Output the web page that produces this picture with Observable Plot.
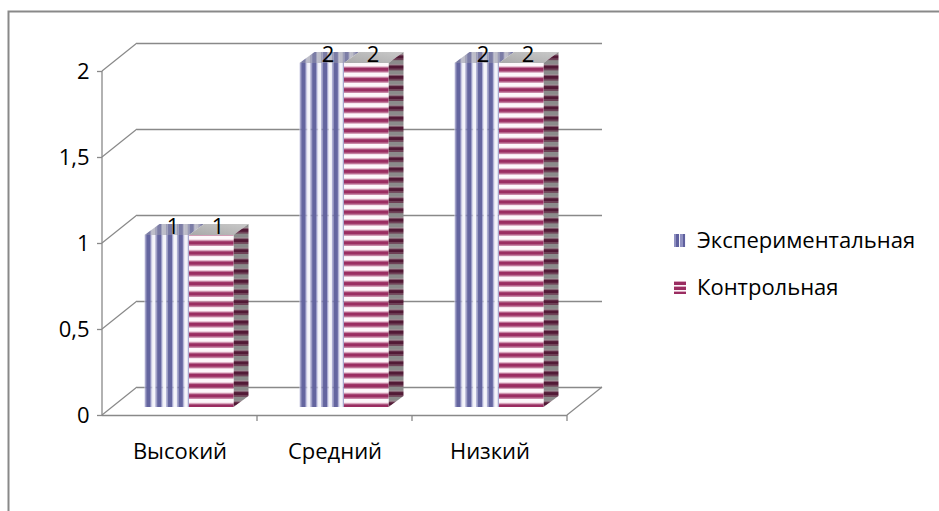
<!DOCTYPE html>
<html>
<head>
<meta charset="utf-8">
<script src="https://cdn.jsdelivr.net/npm/d3@7"></script>
<script src="https://cdn.jsdelivr.net/npm/@observablehq/plot@0.6"></script>
<style>
  body { margin: 0; background: #fff; }
  #chart { position: relative; width: 939px; height: 511px; overflow: hidden; font-family: "Open Sans", sans-serif; }
  #chart svg { position: absolute; left: 0; top: 0; }
  .legend-item { position: absolute; left: 674px; font-size: 22px; line-height: 24px; color: #000; white-space: nowrap; }
  .legend-item .sw { position: absolute; left: 0; width: 12px; height: 13px; }
  .legend-item .lbl { position: absolute; left: 23px; top: 0; }
  .sw.exp { background: repeating-linear-gradient(90deg, #9091c2 0 2.5px, #5f609e 2.5px 5px, #f4f4fa 5px 6.5px); }
  .sw.ctl { background: repeating-linear-gradient(180deg, #dba8c0 0 1.2px, #9a2d61 1.2px 3.6px, #fbf3f7 3.6px 5px); }
</style>
</head>
<body>
<div id="chart"></div>
<script>
// Level categories and the two groups being compared
const categories = ["Высокий", "Средний", "Низкий"];
const seriesNames = ["Экспериментальная", "Контрольная"];
const experimental = [1, 2, 2];
const control = [1, 2, 2];

// Value axis ticks and their labels (decimal comma)
const yTicks = [0, 0.5, 1, 1.5, 2];
const yTickLabels = ["0", "0,5", "1", "1,5", "2"];

const expRows = categories.map((c, i) => ({category: c, series: seriesNames[0], value: experimental[i]}));
const ctlRows = categories.map((c, i) => ({category: c, series: seriesNames[1], value: control[i]}));

// Layout and 3-D look
const W = 939, H = 511;
const M = {left: 102, right: 372, top: 71, bottom: 96};
const wall = {dx: 35, dy: -28};                 // offset of the back wall
const bar = {shift: 9.5, lift: -8, width: 44.5, depthX: 15, depthY: -11};
const half = (W - M.left - M.right) / categories.length / 2;
const gridColor = "#898989";
const gridWidth = 1.3;
const fontSize = 22;
const stripeH = 10.2;                            // period of horizontal stripes
const stripeV = 10.8;                            // period of vertical stripes

function bandwidth(x, dims) {
  return typeof x.bandwidth === "function" ? x.bandwidth() : (dims.width - dims.marginLeft - dims.marginRight) / categories.length;
}

// Pattern definitions for the striped fills
function patterns(index, {y}) {
  const base = y(0) + bar.lift;
  const g = d3.create("svg:g");
  const defs = g.append("defs");

  // vertical stripes, front of the experimental bars
  const pe = defs.append("pattern").attr("id", "expFront")
    .attr("patternUnits", "objectBoundingBox").attr("x", 0).attr("y", 0)
    .attr("width", stripeV / bar.width).attr("height", 1);
  [[0, 0.2, "#f4f4fa"], [0.2, 1.5, "#9a9bc9"], [1.5, 6.1, "#64659f"], [6.1, 7.4, "#9a9bc9"], [7.4, stripeV, "#f4f4fa"]]
    .forEach(([a, b, c]) => pe.append("rect").attr("x", a).attr("y", 0).attr("width", b - a).attr("height", H).attr("fill", c));

  // vertical stripes seen on the top of the experimental bars
  const topW = bar.width + bar.depthX;
  const pt = defs.append("pattern").attr("id", "expTop")
    .attr("patternUnits", "objectBoundingBox").attr("x", 0).attr("y", 0)
    .attr("width", stripeV / topW).attr("height", 1);
  [[0, 1.5, "#9a9ab4"], [1.5, 6.1, "#7c7da6"], [6.1, 7.4, "#9a9ab4"], [7.4, stripeV, "#bdbdc8"]]
    .forEach(([a, b, c]) => pt.append("rect").attr("x", a).attr("y", 0).attr("width", b - a).attr("height", 40).attr("fill", c));

  // horizontal stripes, front of the control bars
  const pc = defs.append("pattern").attr("id", "ctlFront")
    .attr("patternUnits", "userSpaceOnUse").attr("x", 0).attr("y", base % stripeH)
    .attr("width", 40).attr("height", stripeH);
  [[0, 3.9, "#fdf7fa"], [3.9, 5.0, "#e0b0c6"], [5.0, 9.1, "#9a2d61"], [9.1, stripeH, "#c98aa8"]]
    .forEach(([a, b, c]) => pc.append("rect").attr("x", 0).attr("y", a).attr("width", 40).attr("height", b - a).attr("fill", c));

  // horizontal stripes on the shaded side of the control bars
  const ps = defs.append("pattern").attr("id", "ctlSide")
    .attr("patternUnits", "userSpaceOnUse").attr("x", 0).attr("y", base % stripeH)
    .attr("width", 40).attr("height", stripeH);
  [[0, 4.3, "#8b8b8b"], [4.3, 5.0, "#72505f"], [5.0, 9.1, "#521a36"], [9.1, stripeH, "#6d4155"]]
    .forEach(([a, b, c]) => ps.append("rect").attr("x", 0).attr("y", a).attr("width", 40).attr("height", b - a).attr("fill", c));

  // top of the control bars
  const lg = defs.append("linearGradient").attr("id", "ctlTop").attr("x1", 0).attr("y1", 1).attr("x2", 1).attr("y2", 0);
  lg.append("stop").attr("offset", "0%").attr("stop-color", "#a9a9a9");
  lg.append("stop").attr("offset", "100%").attr("stop-color", "#c9c9c9");
  return g.node();
}

// Outer chart-area border (runs off the right and bottom edges)
function outerBorder() {
  return d3.create("svg:path")
    .attr("d", `M8.5,${H}V11.5H${W}`)
    .attr("fill", "none").attr("stroke", gridColor).attr("stroke-width", 2)
    .node();
}

// Side walls and floor edges of the 3-D box, plus category dividers
function box(index, {x, y}, values, dims) {
  const g = d3.create("svg:g").attr("fill", "none").attr("stroke", gridColor).attr("stroke-width", gridWidth);
  const x0 = dims.marginLeft, x1 = dims.width - dims.marginRight;
  for (const t of yTicks) {
    g.append("line").attr("x1", x0).attr("y1", y(t)).attr("x2", x0 + wall.dx).attr("y2", y(t) + wall.dy);
  }
  g.append("line").attr("x1", x1).attr("y1", y(0)).attr("x2", x1 + wall.dx).attr("y2", y(0) + wall.dy);
  g.append("line").attr("x1", x0).attr("y1", y(yTicks[yTicks.length - 1])).attr("x2", x0).attr("y2", y(0));
  const bw = bandwidth(x, dims);
  for (const c of categories) {
    const xb = x(c) + bw;
    g.append("line").attr("x1", xb).attr("y1", y(0)).attr("x2", xb).attr("y2", y(0) + 6);
  }
  return g.node();
}

// Top and right faces of the bars
function barFaces(index, {x, y}, values, dims) {
  const bw = bandwidth(x, dims);
  const g = d3.create("svg:g");
  const poly = (pts, fill) => g.append("polygon").attr("points", pts.map(p => p.join(",")).join(" ")).attr("fill", fill);
  categories.forEach((c, i) => {
    const cx = x(c) + bw / 2 + bar.shift;
    const yb = y(0) + bar.lift;
    const ye = y(experimental[i]) + bar.lift;
    const yc = y(control[i]) + bar.lift;
    const dX = bar.depthX, dY = bar.depthY;
    // experimental top
    poly([[cx - bar.width, ye], [cx - bar.width + dX, ye + dY], [cx + dX, ye + dY], [cx, ye]], "url(#expTop)");
    // control top
    poly([[cx, yc], [cx + dX, yc + dY], [cx + bar.width + dX, yc + dY], [cx + bar.width, yc]], "url(#ctlTop)");
    // control side
    const xr = cx + bar.width;
    poly([[xr, yc], [xr + dX, yc + dY], [xr + dX, yb + dY], [xr, yb]], "url(#ctlSide)");
  });
  return g.node();
}

const plot = Plot.plot({
  width: W,
  height: H,
  marginLeft: M.left,
  marginRight: M.right,
  marginTop: M.top,
  marginBottom: M.bottom,
  style: {fontFamily: "'Open Sans', sans-serif", fontSize: fontSize + "px", color: "#000", background: "transparent", overflow: "visible"},
  x: {type: "band", domain: categories, padding: 0},
  y: {domain: [0, 2]},
  marks: [
    patterns,
    outerBorder,
    // back wall gridlines
    Plot.ruleY(yTicks, {dx: wall.dx, dy: wall.dy, stroke: gridColor, strokeWidth: gridWidth}),
    // front floor edge
    Plot.ruleY([0], {stroke: gridColor, strokeWidth: gridWidth}),
    box,
    Plot.axisY(yTicks, {
      tickSize: 5, tickPadding: 8, stroke: gridColor, strokeWidth: gridWidth,
      tickFormat: d => yTickLabels[yTicks.indexOf(d)], label: null, fontSize
    }),
    Plot.axisX({tickSize: 0, tickPadding: 28, label: null, fontSize}),
    barFaces,
    Plot.barY(expRows, {
      x: "category", y: "value", fill: "url(#expFront)",
      insetLeft: half - bar.width, insetRight: half, dx: bar.shift, dy: bar.lift
    }),
    Plot.barY(ctlRows, {
      x: "category", y: "value", fill: "url(#ctlFront)",
      insetLeft: half, insetRight: half - bar.width, dx: bar.shift, dy: bar.lift
    }),
    Plot.text(expRows, {x: "category", y: "value", text: d => String(d.value), dx: -7, dy: -10, lineAnchor: "bottom", fontSize, fill: "#000"}),
    Plot.text(ctlRows, {x: "category", y: "value", text: d => String(d.value), dx: 38, dy: -10, lineAnchor: "bottom", fontSize, fill: "#000"})
  ]
});

const root = document.getElementById("chart");
root.appendChild(plot);

// Legend
const legend = [
  {name: seriesNames[0], cls: "exp", top: 227, swTop: 7},
  {name: seriesNames[1], cls: "ctl", top: 274, swTop: 7}
];
for (const item of legend) {
  const div = document.createElement("div");
  div.className = "legend-item";
  div.style.top = item.top + "px";
  const sw = document.createElement("span");
  sw.className = "sw " + item.cls;
  sw.style.top = item.swTop + "px";
  const lbl = document.createElement("span");
  lbl.className = "lbl";
  lbl.textContent = item.name;
  div.appendChild(sw);
  div.appendChild(lbl);
  root.appendChild(div);
}
</script>
</body>
</html>
